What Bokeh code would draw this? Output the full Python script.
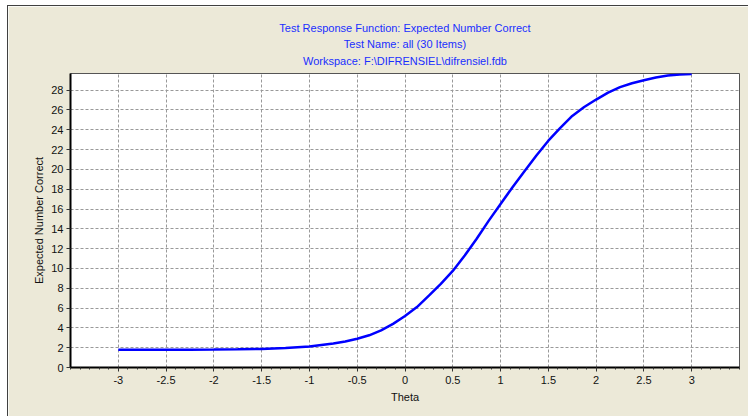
from bokeh.plotting import figure
from bokeh.models import Title, FixedTicker, Range1d
from bokeh.embed import file_html
from bokeh.resources import INLINE

# ---- data ----
theta = [-3.0, -2.75, -2.5, -2.25, -2.0, -1.75, -1.5, -1.25, -1.0, -0.75, -0.625, -0.5,
         -0.375, -0.25, -0.125, 0.0, 0.125, 0.25, 0.375, 0.5, 0.625, 0.75, 0.875, 1.0,
         1.125, 1.25, 1.375, 1.5, 1.625, 1.75, 1.875, 2.0, 2.125, 2.25, 2.375, 2.5,
         2.625, 2.75, 2.875, 3.0]
expected_correct = [1.78, 1.78, 1.79, 1.80, 1.81, 1.83, 1.88, 1.97, 2.12, 2.42, 2.62, 2.90,
                    3.25, 3.75, 4.40, 5.20, 6.10, 7.25, 8.45, 9.75, 11.3, 13.0, 14.8, 16.5,
                    18.2, 19.8, 21.4, 22.9, 24.2, 25.4, 26.3, 27.05, 27.75, 28.3, 28.7, 29.0,
                    29.27, 29.47, 29.57, 29.62]
x_ticks = [-3, -2.5, -2, -1.5, -1, -0.5, 0, 0.5, 1, 1.5, 2, 2.5, 3]
x_tick_labels = ["-3", "-2.5", "-2", "-1.5", "-1", "-0.5", "0", "0.5", "1", "1.5", "2", "2.5", "3"]
y_ticks = [0, 2, 4, 6, 8, 10, 12, 14, 16, 18, 20, 22, 24, 26, 28]
title_lines = ["Test Response Function: Expected Number Correct",
               "Test Name: all (30 Items)",
               "Workspace: F:\\DIFRENSIEL\\difrensiel.fdb"]

FONT = "Liberation Sans"
BG = "#ECE9D8"

p = figure(width=741, height=411, output_backend="svg", toolbar_location=None,
           x_range=Range1d(-3.5, 3.5), y_range=Range1d(0, 29.68),
           min_border_left=62, min_border_right=10, min_border_top=67, min_border_bottom=50)
p.margin = (5, 0, 0, 7)
p.styles = {"border-top": "1px solid #404040", "border-left": "1px solid #404040"}
p.title = None
p.background_fill_color = "white"
p.border_fill_color = BG
p.outline_line_color = "#555555"
p.outline_line_width = 1

# titles (first added sits closest to the frame): Workspace, Test Name, Test Response
standoffs = [9, 2, 2]
valigns = ["top", "bottom", "bottom"]
for t, so, va in zip(reversed(title_lines), standoffs, valigns):
    p.add_layout(Title(text=t, align="center", text_color="#1a2fff", text_font=FONT,
                       text_font_size="11px", text_font_style="normal", standoff=so,
                       vertical_align=va), "above")

p.line(theta, expected_correct, line_color="#0000ff", line_width=2.5)

minor = [round(-3.5 + 0.1 * i, 2) for i in range(71)]
p.xaxis.ticker = FixedTicker(ticks=x_ticks, minor_ticks=minor)
p.xaxis.major_label_overrides = {t: l for t, l in zip(x_ticks, x_tick_labels)}
p.yaxis.ticker = FixedTicker(ticks=y_ticks, minor_ticks=[])

for ax in (p.xaxis, p.yaxis):
    ax.axis_line_color = "black"
    ax.axis_line_width = 2
    ax.major_tick_line_color = "#333333"
    ax.minor_tick_line_color = "#333333"
    ax.major_tick_in = 0
    ax.major_tick_out = 4
    ax.minor_tick_in = 0
    ax.minor_tick_out = 2
    ax.major_label_text_font = FONT
    ax.major_label_text_font_size = "11px"
    ax.major_label_text_color = "#111111"
    ax.axis_label_text_font = FONT
    ax.axis_label_text_font_size = "11px"
    ax.axis_label_text_font_style = "normal"
    ax.axis_label_text_color = "#111111"

p.xaxis.axis_label = "Theta"
p.yaxis.axis_label = "Expected Number Correct"
p.xaxis.major_label_standoff = 4
p.yaxis.major_label_standoff = 3
p.xaxis.axis_label_standoff = 4
p.yaxis.axis_label_standoff = 3

p.grid.grid_line_color = "#999999"
p.grid.grid_line_dash = "3 2"
p.grid.grid_line_width = 1

open("out.html", "w").write(file_html(p, INLINE))
